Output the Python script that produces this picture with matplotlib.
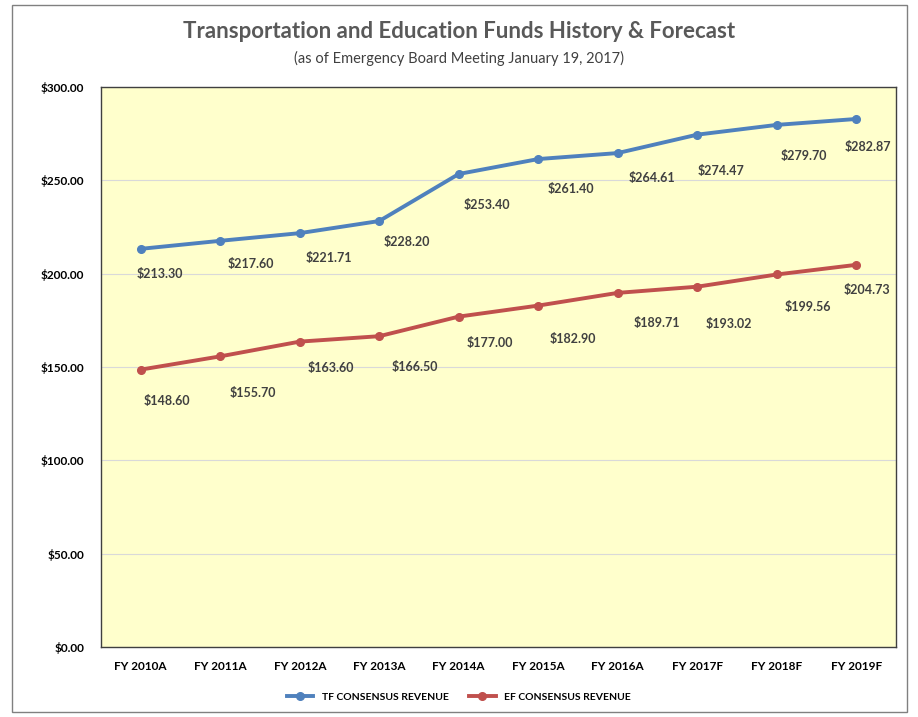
import matplotlib.pyplot as plt
from matplotlib.patches import Rectangle

# Data
years = ['FY 2010A', 'FY 2011A', 'FY 2012A', 'FY 2013A', 'FY 2014A',
         'FY 2015A', 'FY 2016A', 'FY 2017F', 'FY 2018F', 'FY 2019F']
tf_revenue = [213.30, 217.60, 221.71, 228.20, 253.40,
              261.40, 264.61, 274.47, 279.70, 282.87]
ef_revenue = [148.60, 155.70, 163.60, 166.50, 177.00,
              182.90, 189.71, 193.02, 199.56, 204.73]
y_ticks = [0, 50, 100, 150, 200, 250, 300]

# label offsets in pixels (dx, dy) relative to each point
tf_offsets = [(19, -25), (31, -23), (29, -25), (28, -21), (28, -31),
              (33, -30), (34, -25), (24, -36), (27, -31), (12, -28)]
ef_offsets = [(26, -31), (33, -37), (31, -26), (36, -31), (31, -26),
              (35, -33), (39, -30), (32, -37), (31, -33), (11, -25)]

plt.rcParams['font.family'] = ['Lato', 'DejaVu Sans']

fig = plt.figure(figsize=(9.18, 7.17), dpi=100)
ax = fig.add_axes([101 / 918, 1 - 647 / 717, 795 / 918, 560 / 717])

x = range(len(years))
ax.plot(x, tf_revenue, color='#4F81BD', lw=2.8, marker='o', ms=5.5,
        label='TF CONSENSUS REVENUE', zorder=3)
ax.plot(x, ef_revenue, color='#C0504D', lw=2.8, marker='o', ms=5.5,
        label='EF CONSENSUS REVENUE', zorder=3)

for series, offs in ((tf_revenue, tf_offsets), (ef_revenue, ef_offsets)):
    for i, (v, (dx, dy)) in enumerate(zip(series, offs)):
        ax.annotate(f'${v:.2f}', (i, v), xytext=(dx, dy),
                    textcoords='offset pixels', ha='center', va='center',
                    fontsize=9, fontweight='bold', color='#404040')

ax.set_facecolor('#FFFFCC')
ax.set_xlim(-0.5, len(years) - 0.5)
ax.set_ylim(0, 300)
ax.set_yticks(y_ticks)
ax.set_yticklabels([f'${t:.2f}' for t in y_ticks])
ax.set_xticks(list(x))
ax.set_xticklabels(years)
ax.tick_params(length=0, labelsize=8.5, pad=10)
for lab in ax.get_xticklabels() + ax.get_yticklabels():
    lab.set_fontweight('bold')
ax.tick_params(axis='y', pad=12)
ax.grid(axis='y', color='#D9D9D9', lw=0.8)
ax.set_axisbelow(True)
for s in ax.spines.values():
    s.set_color('#404040')
    s.set_linewidth(1)

fig.text(0.5, 1 - 31 / 717, 'Transportation and Education Funds History & Forecast',
         ha='center', va='center', fontsize=16, fontweight='bold', color='#595959')
fig.text(0.5, 1 - 58 / 717, '(as of Emergency Board Meeting January 19, 2017)',
         ha='center', va='center', fontsize=10.5, color='#404040')

fig.legend(loc='center', bbox_to_anchor=(0.5, 1 - 697 / 717), ncol=2,
           frameon=False, handlelength=2.5, columnspacing=2,
           prop={'weight': 'bold', 'size': 7.5})

fig.patches.append(Rectangle((12 / 918, 5 / 717), 895 / 918, 707 / 717,
                             transform=fig.transFigure, fill=False,
                             edgecolor='#808080', lw=1))

fig.savefig('out.png', dpi=100)
